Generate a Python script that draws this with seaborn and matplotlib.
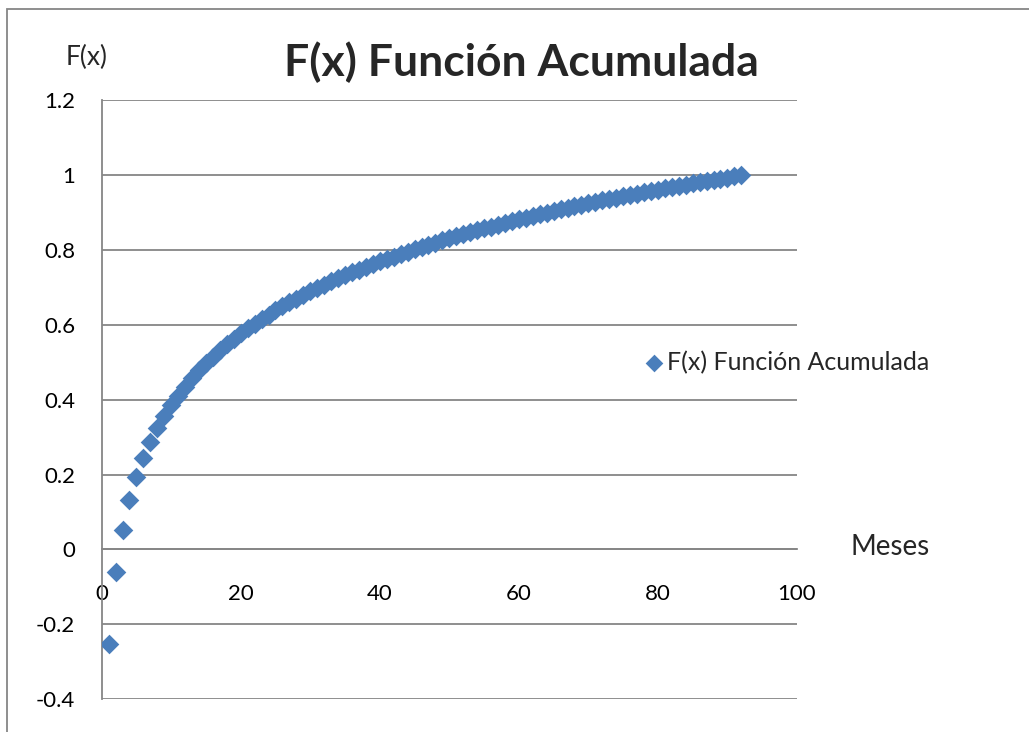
import numpy as np
import pandas as pd
import matplotlib
matplotlib.use("Agg")
import matplotlib.pyplot as plt
import seaborn as sns
from matplotlib.patches import Rectangle

# -----------------------------
# DATA
# -----------------------------
meses = list(range(1, 93))
fx = [
    -0.253, -0.061, 0.051, 0.131, 0.193, 0.243, 0.286, 0.323, 0.356, 0.385,
    0.411, 0.435, 0.457, 0.478, 0.497, 0.515, 0.532, 0.548, 0.563, 0.577,
    0.590, 0.603, 0.616, 0.627, 0.639, 0.649, 0.660, 0.670, 0.680, 0.689,
    0.698, 0.707, 0.716, 0.724, 0.732, 0.740, 0.747, 0.755, 0.762, 0.769,
    0.776, 0.782, 0.789, 0.795, 0.801, 0.808, 0.813, 0.819, 0.825, 0.831,
    0.836, 0.841, 0.847, 0.852, 0.857, 0.862, 0.867, 0.872, 0.876, 0.881,
    0.886, 0.890, 0.895, 0.899, 0.903, 0.908, 0.912, 0.916, 0.920, 0.924,
    0.928, 0.932, 0.935, 0.939, 0.943, 0.947, 0.950, 0.954, 0.957, 0.961,
    0.964, 0.968, 0.971, 0.974, 0.978, 0.981, 0.984, 0.987, 0.990, 0.993,
    0.997, 1.000,
]
x_ticks = [0, 20, 40, 60, 80, 100]
y_ticks = [-0.4, -0.2, 0, 0.2, 0.4, 0.6, 0.8, 1, 1.2]
y_tick_labels = ["-0.4", "-0.2", "0", "0.2", "0.4", "0.6", "0.8", "1", "1.2"]
serie = "F(x) Función Acumulada"

# -----------------------------
# STYLE
# -----------------------------
sns.set_style("white")
plt.rcParams["font.family"] = ["Lato", "DejaVu Sans"]
GRID = "#868686"
BLUE = "#4A7EBB"

df = pd.DataFrame({"Meses": meses, "F(x)": fx})

fig = plt.figure(figsize=(10.29, 7.32), dpi=100)
# outer chart frame (right/bottom edges fall outside the image)
fig.patches.append(Rectangle((7 / 1029, -0.1), 1.2, 1 - 9 / 732 + 0.1,
                             transform=fig.transFigure, fill=False,
                             edgecolor=GRID, linewidth=1.3))
ax = fig.add_axes([0.0988, 0.0447, 0.6757, 0.8187])

sns.scatterplot(data=df, x="Meses", y="F(x)", ax=ax, marker="D", s=100,
                color=BLUE, linewidth=0, label=serie, zorder=3)

ax.set_xlim(0, 100)
ax.set_ylim(-0.4, 1.2)
ax.set_xticks(x_ticks)
ax.set_yticks(y_ticks)
ax.set_yticklabels(y_tick_labels)
ax.set_xlabel("")
ax.set_ylabel("")

for s in ["top", "right"]:
    ax.spines[s].set_visible(False)
ax.spines["bottom"].set_position(("data", 0))
for s in ["left", "bottom"]:
    ax.spines[s].set_color(GRID)
    ax.spines[s].set_linewidth(1.3)
ax.yaxis.grid(True, color=GRID, linewidth=1.3)
ax.set_axisbelow(True)
ax.tick_params(axis="both", direction="out", length=6, width=1.3, color=GRID,
               labelsize=16, labelcolor="black")
ax.tick_params(axis="x", pad=19)
ax.tick_params(axis="y", pad=13)

fig.text(0.507, 0.915, serie, ha="center", va="center", fontsize=32,
         fontweight="bold")
fig.text(0.0845, 0.921, "F(x)", ha="center", va="center", fontsize=19)
fig.text(0.865, 0.2527, "Meses", ha="center", va="center", fontsize=20)

ax.legend(loc="center left", bbox_to_anchor=(0.626, 0.505),
          bbox_transform=fig.transFigure, frameon=False, fontsize=18,
          handletextpad=0.1, handlelength=0.8, markerscale=0.9,
          borderpad=0, borderaxespad=0)

fig.savefig("out.png", dpi=100)
